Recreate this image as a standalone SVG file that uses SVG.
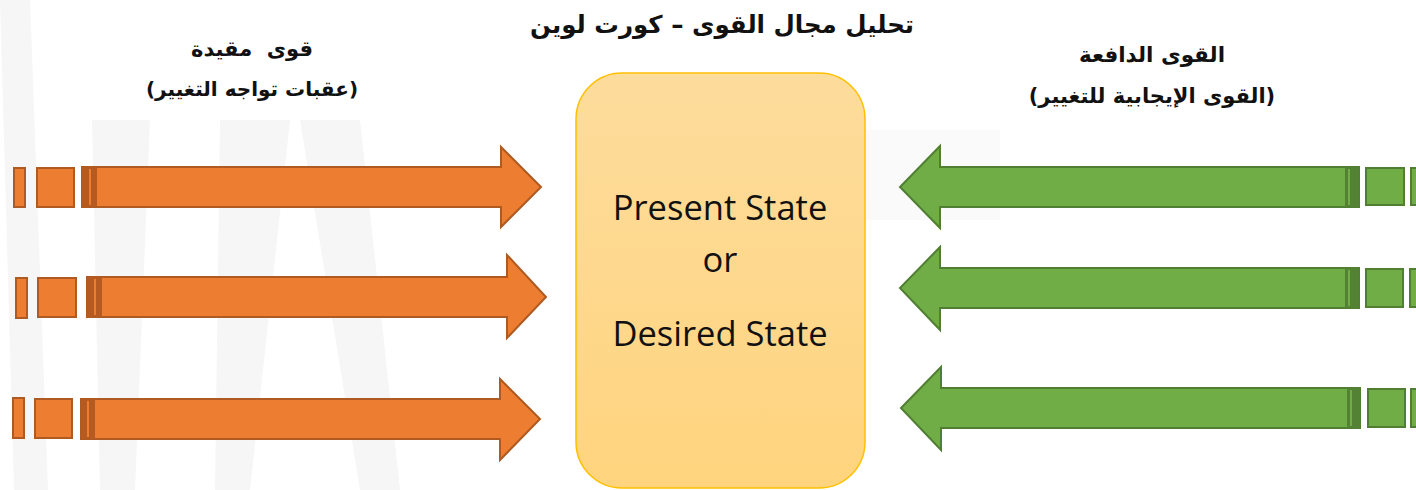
<svg xmlns="http://www.w3.org/2000/svg" width="1416" height="490" viewBox="0 0 1416 490">
  <defs>
    <linearGradient id="boxGrad" x1="0" y1="0" x2="0" y2="1">
      <stop offset="0" stop-color="#FDDC9C"/>
      <stop offset="1" stop-color="#FFD47E"/>
    </linearGradient>
    <style>
      .wm { fill: #f6f6f6; }
      .org { fill: #ED7D31; stroke: #AE5A21; stroke-width: 2; stroke-linejoin: miter; }
      .orgd { fill: #B55A20; }
      .orgl { stroke: #ED7D31; stroke-width: 2; }
      .grn { fill: #70AD47; stroke: #507E32; stroke-width: 2; stroke-linejoin: miter; }
      .grnd { fill: #548235; }
      .grnl { stroke: #70AD47; stroke-width: 2; }
      .ar { font-family: "DejaVu Sans", "Noto Sans", sans-serif; font-weight: bold; fill: #111111; text-anchor: middle; }
      .en { font-family: "Open Sans", "Liberation Sans", sans-serif; font-size: 34.5px; fill: #111111; text-anchor: middle; }
    </style>
  </defs>

  <rect x="0" y="0" width="1416" height="490" fill="#ffffff"/>

  <!-- faint watermark -->
  <g id="watermark">
    <polygon class="wm" points="0,0 30,0 48,490 14,490"/>
    <polygon class="wm" points="92,120 150,120 135,490 100,490"/>
    <polygon class="wm" points="220,120 290,120 250,490 215,490"/>
    <polygon class="wm" points="300,120 360,120 400,490 360,490"/>
    <polygon class="wm" points="865,130 1000,130 1000,220 865,220" opacity="0.6"/>
  </g>

  <!-- label backgrounds -->
  <rect x="118" y="22" width="327" height="98" fill="#ffffff"/>
  <rect x="1000" y="0" width="416" height="128" fill="#ffffff"/>

  <!-- title -->
  <g id="title">
    <text class="ar" x="722" y="33" font-size="24.5" direction="rtl">تحليل مجال القوى – كورت لوين</text>
  </g>

  <!-- left label -->
  <g id="label-restraining">
    <text class="ar" x="252" y="56" font-size="21" direction="rtl">قوى&#160; مقيدة</text>
    <text class="ar" x="252" y="96" font-size="20" direction="rtl">(عقبات تواجه التغيير)</text>
  </g>

  <!-- right label -->
  <g id="label-driving">
    <text class="ar" x="1152" y="62" font-size="21.5" direction="rtl">القوى الدافعة</text>
    <text class="ar" x="1152" y="103" font-size="21" direction="rtl">(القوى الإيجابية للتغيير)</text>
  </g>

  <!-- central node -->
  <g id="state-box">
    <rect x="576" y="73" width="289" height="415" rx="46" ry="46" fill="url(#boxGrad)" stroke="#FFC000" stroke-width="1.5"/>
    <text class="en" x="720" y="220">Present State</text>
    <text class="en" x="720" y="272">or</text>
    <text class="en" x="720" y="346">Desired State</text>
  </g>

  <!-- connectors: force arrows -->
  <g id="connectors">
    <!-- restraining (orange) -->
    <g id="orange-1">
      <rect class="org" x="14" y="168" width="11" height="39"/>
      <rect class="org" x="37" y="168" width="37" height="39"/>
      <polygon class="org" points="82,167 501,167 501,147 541,187 501,227 501,207 82,207"/>
      <rect class="orgd" x="82" y="167" width="15" height="40"/>
      <line class="orgl" x1="90" y1="169" x2="90" y2="205"/>
    </g>
    <g id="orange-2">
      <rect class="org" x="16" y="278" width="11" height="40"/>
      <rect class="org" x="38" y="278" width="38" height="39"/>
      <polygon class="org" points="87,277 507,277 507,255 546,297 507,338 507,317 87,317"/>
      <rect class="orgd" x="87" y="277" width="15" height="40"/>
      <line class="orgl" x1="95" y1="279" x2="95" y2="315"/>
    </g>
    <g id="orange-3">
      <rect class="org" x="13" y="398" width="11" height="40"/>
      <rect class="org" x="35" y="399" width="37" height="39"/>
      <polygon class="org" points="81,399 500,399 500,379 540,419 500,460 500,439 81,439"/>
      <rect class="orgd" x="81" y="399" width="14" height="40"/>
      <line class="orgl" x1="88" y1="401" x2="88" y2="437"/>
    </g>

    <!-- driving (green) -->
    <g id="green-1">
      <polygon class="grn" points="1359,167 940,167 940,146 900,187 940,228 940,207 1359,207"/>
      <rect class="grnd" x="1345" y="167" width="14" height="40"/>
      <line class="grnl" x1="1349" y1="169" x2="1349" y2="205"/>
      <rect class="grn" x="1366" y="168" width="38" height="37"/>
      <rect class="grn" x="1411" y="168" width="12" height="37"/>
    </g>
    <g id="green-2">
      <polygon class="grn" points="1359,268 940,268 940,247 900,288 940,330 940,308 1359,308"/>
      <rect class="grnd" x="1345" y="268" width="14" height="40"/>
      <line class="grnl" x1="1349" y1="270" x2="1349" y2="306"/>
      <rect class="grn" x="1366" y="269" width="37" height="38"/>
      <rect class="grn" x="1410" y="269" width="12" height="38"/>
    </g>
    <g id="green-3">
      <polygon class="grn" points="1360,388 941,388 941,367 901,408 941,450 941,428 1360,428"/>
      <rect class="grnd" x="1347" y="388" width="13" height="40"/>
      <line class="grnl" x1="1351" y1="390" x2="1351" y2="426"/>
      <rect class="grn" x="1368" y="389" width="37" height="38"/>
      <rect class="grn" x="1411" y="389" width="12" height="38"/>
    </g>
  </g>
</svg>
